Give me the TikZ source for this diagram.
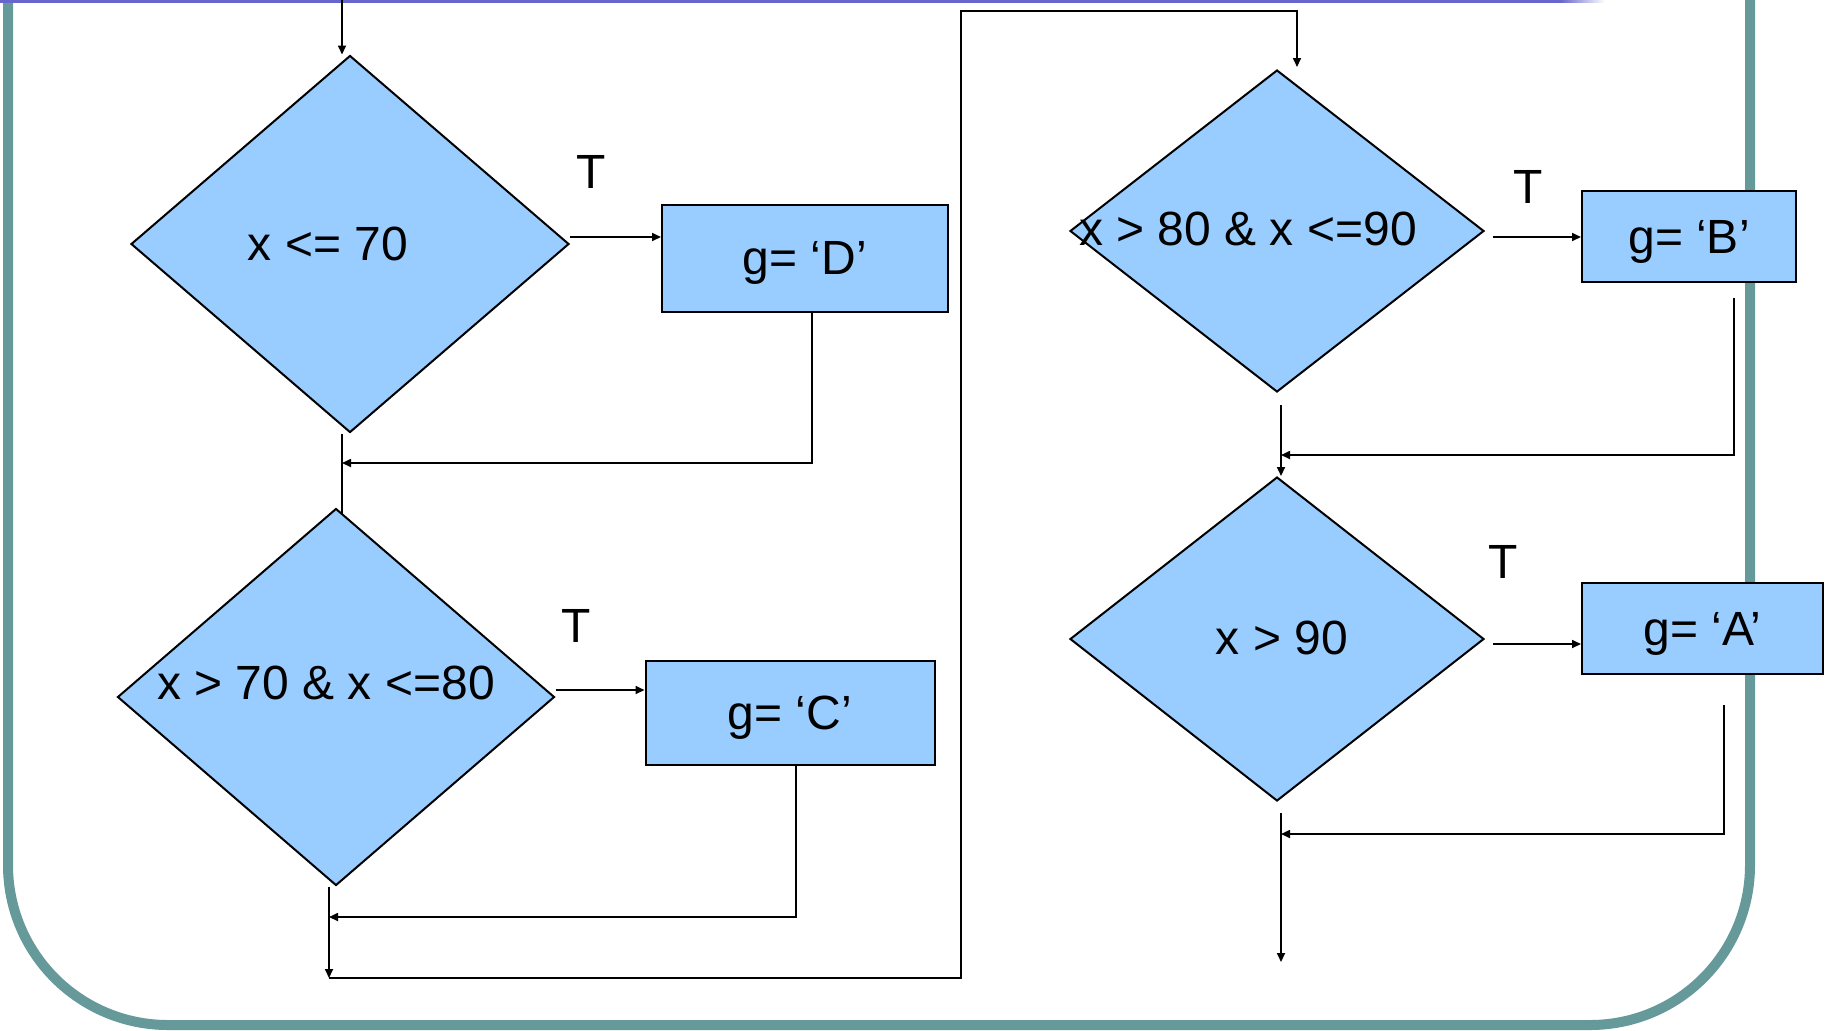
\documentclass[tikz,border=0pt]{standalone}
\usepackage{fontspec}
\setmainfont{Liberation Sans}
\usetikzlibrary{shapes.geometric,arrows.meta}
\definecolor{fillblue}{HTML}{99CCFF}
\definecolor{framecol}{HTML}{669999}
\definecolor{topline}{HTML}{6666CC}
\begin{document}
\begin{tikzpicture}[x=0.5pt,y=-0.5pt,
  every node/.style={font=\fontsize{24}{29}\selectfont},
  dia/.style={diamond, draw=black, fill=fillblue, line width=1pt, inner sep=0pt},
  box/.style={rectangle, draw=black, fill=fillblue, line width=1pt, inner sep=0pt, text depth=0pt},
  conn/.style={draw=black, line width=0.85pt},
  arr/.style={conn, -{Triangle[length=4.5pt,width=4pt]}},
  lbl/.style={inner sep=0pt},
]
\useasboundingbox (0,0) rectangle (1825,1030);
\clip (0,0) rectangle (1825,1030);
\fill[white] (0,0) rectangle (1825,1030);
% frame
\draw[framecol, line width=5pt, rounded corners=80pt] (8,-300) -- (8,1025) -- (1750,1025) -- (1750,-300);
% top line
\fill[topline] (0,0) rectangle (1560,2.5);
\shade[left color=topline, right color=white] (1560,0) rectangle (1605,2.5);

% diamonds
\node[dia, minimum width=219pt, minimum height=188.5pt] (d1) at (350,244) {};
\node[dia, minimum width=218.5pt, minimum height=188.5pt] (d2) at (336,697) {};
\node[dia, minimum width=207pt, minimum height=161pt] (d3) at (1277,231) {};
\node[dia, minimum width=207pt, minimum height=162pt] (d4) at (1277,639) {};
\node[lbl] (t1) at (328,244) {x <= 70};
\node[lbl] (t2) at (326,683) {x > 70 \& x <=80};
\node[lbl] (t3) at (1248,229) {x > 80 \& x <=90};
\node[lbl] (t4) at (1282,638) {x > 90};

% boxes
\node[box, minimum width=143pt, minimum height=53.5pt] (D) at (805,258) {g= ‘D’};
\node[box, minimum width=144.5pt, minimum height=52pt] (C) at (790,713) {g= ‘C’};
\node[box, minimum width=107pt, minimum height=45.5pt] (B) at (1689,236.5) {g= ‘B’};
\node[box, minimum width=120.5pt, minimum height=45.5pt] (A) at (1702.5,628.5) {g= ‘A’};

% T labels
\node[lbl] (T1) at (591,172) {T};
\node[lbl] (T2) at (576,626) {T};
\node[lbl] (T3) at (1528,187) {T};
\node[lbl] (T4) at (1503,562) {T};

% coordinates
\coordinate (in0) at (342,-5);
\coordinate (j1) at (342,463);
\coordinate (j2) at (329,917);
\coordinate (j3) at (329,978);
\coordinate (k1) at (961,978);
\coordinate (k2) at (961,10.7);
\coordinate (k3) at (1297,67);
\coordinate (j4) at (1281,455);
\coordinate (j5) at (1281,834);
\coordinate (out) at (1281,962);

% connectors left column
\draw[arr] (in0) -- (in0 |- d1.north);
\draw[arr] ([yshift=3.5pt]d1.east) -- ([yshift=3.5pt]d1.east -| D.west);
\draw[arr] ([xshift=3.5pt]D.south) |- (j1);
\draw[conn] (d1.south -| j1) -- ([yshift=-3.25pt]d2.north -| j1);
\draw[arr] ([yshift=3.5pt]d2.east) -- ([yshift=3.5pt]d2.east -| C.west);
\draw[arr] ([xshift=3pt]C.south) |- (j2);
\draw[arr] (d2.south -| j3) -- (j3);
\draw[arr] (j3) -- (k1) -- (k2) -| (k3);

% connectors right column
\draw[arr] ([shift={(4pt,-3pt)}]d3.east) -- ([yshift=-3pt]d3.east -| B.west);
\draw[arr] ([shift={(22.5pt,-7.5pt)}]B.south) |- (j4);
\draw[arr] ([yshift=-6pt]d3.south -| j4) -- (d4.north -| j4);
\draw[arr] ([shift={(4pt,-2.5pt)}]d4.east) -- ([yshift=-2.5pt]d4.east -| A.west);
\draw[arr] ([shift={(10.75pt,-15pt)}]A.south) |- (j5);
\draw[arr] ([yshift=-5.5pt]d4.south -| out) -- (out);
\end{tikzpicture}
\end{document}
